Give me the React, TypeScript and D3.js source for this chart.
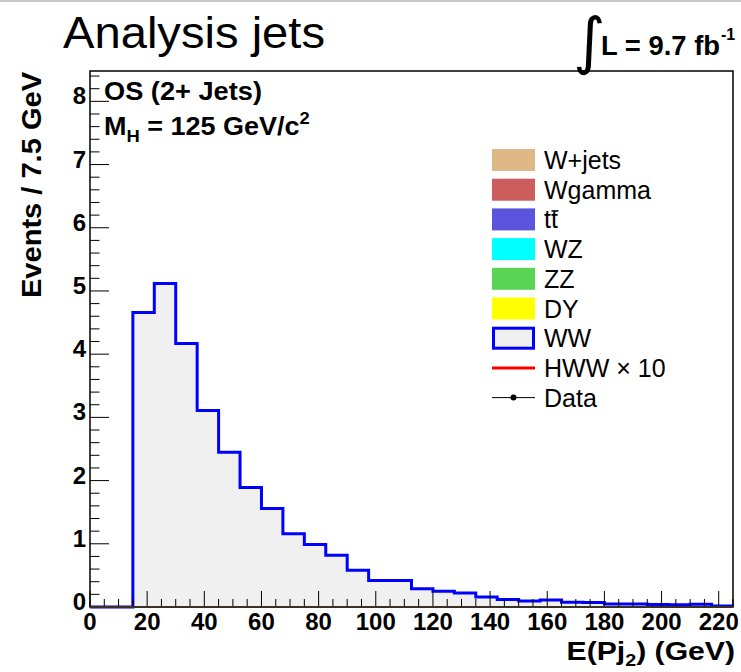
import React from 'react';
import * as d3 from 'd3';

const BIN_WIDTH = 7.5;
const X_DOMAIN = [0, 225];
const Y_DOMAIN = [0, 8.48];
const wwValues = [
  0, 0, 4.66, 5.12, 4.17, 3.11, 2.45, 1.89, 1.56, 1.16,
  0.99, 0.82, 0.58, 0.42, 0.42, 0.29, 0.25, 0.22, 0.16, 0.12,
  0.095, 0.11, 0.074, 0.07, 0.048, 0.048, 0.04, 0.035, 0.045, 0.015,
];
const xTickLabels = [0, 20, 40, 60, 80, 100, 120, 140, 160, 180, 200, 220];
const yTickLabels = [0, 1, 2, 3, 4, 5, 6, 7, 8];
const legendLabels = ['W+jets', 'Wgamma', 'tt', 'WZ', 'ZZ', 'DY', 'WW', 'HWW × 10', 'Data'];
const legendKinds = ['box', 'box', 'box', 'box', 'box', 'box', 'ww', 'line', 'data'];
const legendColors = ['#deb887', '#cd5c5c', '#5a55dc', '#00ffff', '#59d454', '#ffff00', '#0000ff', '#ff0000', '#000000'];

const W = 741;
const H = 672;
const M = { left: 90, right: 733, top: 71, bottom: 607 };
const FONT = '"Liberation Sans", Arial, Helvetica, sans-serif';

export default function App() {
  const x = d3.scaleLinear().domain(X_DOMAIN).range([M.left, M.right]);
  const y = d3.scaleLinear().domain(Y_DOMAIN).range([M.bottom, M.top]);

  const pts: [number, number][] = wwValues.map((v, i) => [i * BIN_WIDTH, v]);
  pts.push([wwValues.length * BIN_WIDTH, wwValues[wwValues.length - 1]]);

  const line = d3
    .line<[number, number]>()
    .x((d) => x(d[0]))
    .y((d) => y(d[1]))
    .curve(d3.curveStepAfter);
  const area = d3
    .area<[number, number]>()
    .x((d) => x(d[0]))
    .y0(y(0))
    .y1((d) => y(d[1]))
    .curve(d3.curveStepAfter);

  const xMinor = d3.range(X_DOMAIN[0], X_DOMAIN[1] + 0.001, 5);
  const yMinor = d3.range(0, Y_DOMAIN[1], 0.2);
  const xMajLen = 16;
  const yMajLen = 19;

  const legX0 = 492;
  const legX1 = 535;
  const legY0 = 160;
  const legStep = 29.7;

  return (
    <svg
      width={W}
      height={H}
      style={{ position: 'absolute', left: 0, top: 0, background: '#fff' }}
      fontFamily={FONT}
    >
      <rect x={0} y={0} width={W} height={H} fill="#fff" />
      <line x1={0} x2={W} y1={1} y2={1} stroke="#c8c8c8" strokeWidth={2} />

      {/* histogram */}
      <path d={area(pts) || ''} fill="#f0f0f0" stroke="none" />
      <path d={line(pts) || ''} fill="none" stroke="#0000ff" strokeWidth={3} />

      {/* x ticks */}
      {xMinor.map((t) => {
        const major = xTickLabels.includes(t);
        return (
          <line
            key={'xm' + t}
            x1={x(t)}
            x2={x(t)}
            y1={M.bottom}
            y2={M.bottom - (major ? xMajLen : xMajLen / 2)}
            stroke="#000"
            strokeWidth={1}
          />
        );
      })}
      {/* y ticks */}
      {yMinor.map((t, i) => {
        const major = i % 5 === 0;
        return (
          <line
            key={'ym' + i}
            x1={M.left}
            x2={M.left + (major ? yMajLen : yMajLen / 2)}
            y1={y(t)}
            y2={y(t)}
            stroke="#000"
            strokeWidth={1}
          />
        );
      })}

      {/* frame */}
      <rect
        x={M.left}
        y={M.top}
        width={M.right - M.left}
        height={M.bottom - M.top}
        fill="none"
        stroke="#000"
        strokeWidth={1.5}
      />
      <line x1={M.left} x2={M.right} y1={M.bottom} y2={M.bottom} stroke="#3a3028" strokeWidth={2} />

      {/* tick labels */}
      {xTickLabels.map((t) => (
        <text key={'xl' + t} x={x(t)} y={630} textAnchor="middle" fontWeight="bold" fontSize={24}>
          {t}
        </text>
      ))}
      {yTickLabels.map((t) => (
        <text key={'yl' + t} x={86} y={y(t) + 3} textAnchor="end" fontWeight="bold" fontSize={24}>
          {t}
        </text>
      ))}

      {/* axis titles */}
      <text
        transform={`translate(41,72) rotate(-90)`}
        textAnchor="end"
        fontWeight="bold"
        fontSize={28}
        textLength={226}
        lengthAdjust="spacingAndGlyphs"
      >
        Events / 7.5 GeV
      </text>
      <g transform="translate(735,660) scale(1.16,1)">
        <text x={0} y={0} textAnchor="end" fontWeight="bold" fontSize={26}>
          E(Pj<tspan fontSize={17} dy={6}>2</tspan>
          <tspan dy={-6}>) (GeV)</tspan>
        </text>
      </g>

      {/* title */}
      <text x={63} y={48} fontSize={45} textLength={262} lengthAdjust="spacingAndGlyphs">
        Analysis jets
      </text>

      {/* luminosity */}
      <text x={573} y={62} fontSize={62} fontFamily='"DejaVu Sans", sans-serif'>
        ∫
      </text>
      <text x={601} y={55} fontWeight="bold" fontSize={27} textLength={119} lengthAdjust="spacingAndGlyphs">
        L = 9.7 fb
      </text>
      <text x={721} y={40} fontWeight="bold" fontSize={16}>
        -1
      </text>

      {/* annotations */}
      <text x={104} y={100} fontWeight="bold" fontSize={25} textLength={158} lengthAdjust="spacingAndGlyphs">
        OS (2+ Jets)
      </text>
      <g transform="translate(104,135) scale(1.08,1)">
        <text x={0} y={0} fontWeight="bold" fontSize={25}>
          M<tspan fontSize={17} dy={7}>H</tspan>
          <tspan dy={-7}> = 125 GeV/c</tspan>
          <tspan fontSize={17} dy={-11}>2</tspan>
        </text>
      </g>

      {/* legend */}
      {legendLabels.map((lab, i) => {
        const cy = legY0 + i * legStep;
        const kind = legendKinds[i];
        const col = legendColors[i];
        return (
          <g key={'lg' + i}>
            {kind === 'box' && (
              <rect x={legX0} y={cy - 11} width={legX1 - legX0} height={22} fill={col} />
            )}
            {kind === 'ww' && (
              <rect
                x={legX0 + 1.5}
                y={cy - 10}
                width={legX1 - legX0 - 3}
                height={20}
                fill="#f0f0f0"
                stroke={col}
                strokeWidth={3}
              />
            )}
            {kind === 'line' && <line x1={legX0} x2={legX1} y1={cy} y2={cy} stroke={col} strokeWidth={3} />}
            {kind === 'data' && (
              <g>
                <line x1={legX0} x2={legX1} y1={cy} y2={cy} stroke={col} strokeWidth={1} />
                <circle cx={(legX0 + legX1) / 2} cy={cy} r={3} fill={col} />
              </g>
            )}
            {lab === 'tt' ? (
              <g>
                <text x={544} y={cy + 9} fontSize={25}>
                  tt
                </text>
                <line x1={551.5} x2={558.5} y1={cy - 8.5} y2={cy - 8.5} stroke="#000" strokeWidth={1.5} />
              </g>
            ) : (
              <text x={544} y={cy + 9} fontSize={25}>
                {lab}
              </text>
            )}
          </g>
        );
      })}
    </svg>
  );
}
